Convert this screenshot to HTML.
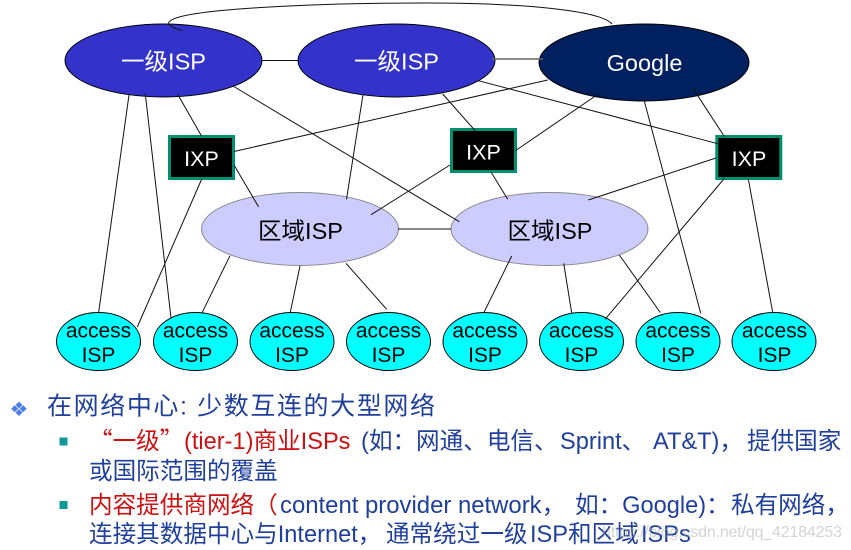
<!DOCTYPE html>
<html><head><meta charset="utf-8"><style>
html,body{margin:0;padding:0;background:#fff;width:851px;height:550px;overflow:hidden}
svg{display:block}
text{font-family:"Liberation Sans","Noto Sans CJK SC",sans-serif}
.b{fill:#1f3f9c}.r{fill:#cc1111}
.c{font-family:"Noto Sans CJK SC",sans-serif}
</style></head><body>
<svg width="851" height="550" viewBox="0 0 851 550" xmlns="http://www.w3.org/2000/svg">
<g stroke="#000" stroke-width="1">
<ellipse cx="163.5" cy="60.5" rx="98.5" ry="36.5" fill="#3333cc"/>
<ellipse cx="396.5" cy="60.5" rx="98.5" ry="36.5" fill="#3333cc"/>
<ellipse cx="644" cy="62.5" rx="105" ry="38.5" fill="#002060"/>
<ellipse cx="300" cy="229" rx="98.5" ry="36.5" fill="#ccccff" stroke="#888"/>
<ellipse cx="549.5" cy="229" rx="98.5" ry="36.5" fill="#ccccff" stroke="#888"/>
<ellipse cx="98.5" cy="341.5" rx="42" ry="29" fill="#00ffff"/>
<ellipse cx="195.5" cy="341.5" rx="42" ry="29" fill="#00ffff"/>
<ellipse cx="292" cy="341.5" rx="42" ry="29" fill="#00ffff"/>
<ellipse cx="388.5" cy="341.5" rx="42" ry="29" fill="#00ffff"/>
<ellipse cx="485" cy="341.5" rx="42" ry="29" fill="#00ffff"/>
<ellipse cx="581.5" cy="341.5" rx="42" ry="29" fill="#00ffff"/>
<ellipse cx="678" cy="341.5" rx="42" ry="29" fill="#00ffff"/>
<ellipse cx="774" cy="341.5" rx="42" ry="29" fill="#00ffff"/>
</g>
<g fill="#000" stroke="#008f6f" stroke-width="3">
<rect x="169.5" y="136.5" width="64" height="42"/>
<rect x="451.5" y="129.5" width="64" height="42"/>
<rect x="716.8" y="136.5" width="64" height="42"/>
</g>
<g stroke="#111" stroke-width="1" fill="none">
<path d="M182.5 30.5C172 28 166 24 170 21C185 8 330 3 425 3C520 3 600 10 612 24"/>
<path d="M262 60.5H298M398 229H451"/>
<path d="M129 95L98.7 312M145.3 94L171 318M177.5 94L201.5 136M201.7 179L137.3 327M234 151.5L547.7 80M234 165L258.5 206.7M233 86L459.3 221.7"/>
<path d="M363 94.5L346.5 199.3M442.7 94L475 130.5M515.7 150.5L598.3 94M450 165L371 214.7M491 172L507.7 199.3M478.3 80.7L717.7 143.7"/>
<path d="M692.3 87.3L724.3 136.5M644.3 101L700.7 313.3M716 158L588.3 200M724.3 178.5L605 319.3M748.3 179L772.7 312.5"/>
<path d="M230 255.7L202.3 312.3M300 266L290.3 312.3M346 263.3L386.7 309.3M511.7 256L484 312.3M563.7 263.3L571.7 313M619.3 255L660.3 312.5"/>
</g>
<path d="M492 59H543" stroke="#666" stroke-width="1.6"/>
<g text-anchor="middle" font-size="23.5" fill="#fff">
<text x="163.5" y="69.5">一级ISP</text>
<text x="396.5" y="69.5">一级ISP</text>
<text x="644.5" y="71">Google</text>
<text x="201.5" y="166" font-size="21.5">IXP</text>
<text x="483.5" y="159.5" font-size="21.5">IXP</text>
<text x="749" y="166" font-size="21.5">IXP</text>
<text x="300.5" y="239" fill="#000">区域ISP</text>
<text x="550" y="239" fill="#000">区域ISP</text>
</g>
<g text-anchor="middle" font-size="21" fill="#000">
<text x="98.5" y="337.5">access</text><text x="98.5" y="362">ISP</text>
<text x="195.5" y="337.5">access</text><text x="195.5" y="362">ISP</text>
<text x="292" y="337.5">access</text><text x="292" y="362">ISP</text>
<text x="388.5" y="337.5">access</text><text x="388.5" y="362">ISP</text>
<text x="485" y="337.5">access</text><text x="485" y="362">ISP</text>
<text x="581.5" y="337.5">access</text><text x="581.5" y="362">ISP</text>
<text x="678" y="337.5">access</text><text x="678" y="362">ISP</text>
<text x="774.5" y="337.5">access</text><text x="774.5" y="362">ISP</text>
</g>
<path fill="#4d7de6" d="M19 401.5l3.500 3.500-3.500 3.500-3.500-3.500zM19 409l3.500 3.500-3.500 3.500-3.500-3.500zM14.700 405.200l3.500 3.500-3.500 3.500-3.500-3.500zM23.200 405.200l3.500 3.500-3.500 3.500-3.500-3.500z"/>
<rect x="59.500" y="437.500" width="8" height="8" fill="#0f9a9a"/>
<rect x="59.500" y="501" width="8" height="8" fill="#0f9a9a"/>
<text x="47" y="414.500" font-size="25" class="b" textLength="388" lengthAdjust="spacing">在网络中心: 少数互连的大型网络</text>
<text y="449" font-size="23.6"><tspan x="89" class="r c">“一级”</tspan><tspan x="184" class="r">(tier-1)商业ISPs</tspan><tspan x="361" class="b">(如&#xFF1A;网通、电信、</tspan><tspan x="560" class="b">Sprint、</tspan><tspan x="653" class="b">AT&amp;T)&#xFF0C;</tspan><tspan x="747" class="b">提供国家</tspan></text>
<text x="89" y="479" font-size="23.6" class="b">或国际范围的覆盖</text>
<text y="513" font-size="23.6"><tspan x="89" class="r">内容提供商网络&#xFF08;</tspan><tspan x="280" class="b" font-size="23.9">content provider network&#xFF0C;</tspan><tspan x="575" class="b">如&#xFF1A;Google)&#xFF1A;</tspan><tspan x="731" class="b">私有网络&#xFF0C;</tspan></text>
<text y="542" font-size="23.6" class="b"><tspan x="89">连接其数据中心与Internet&#xFF0C;</tspan><tspan x="386">通常绕过一级</tspan><tspan x="530">ISP和区域</tspan><tspan x="641">ISPs</tspan></text>
<text x="602" y="537" font-size="16" fill="#aaa" fill-opacity=".5" textLength="240" lengthAdjust="spacing">https://blog.csdn.net/qq_42184253</text>
</svg>
</body></html>
